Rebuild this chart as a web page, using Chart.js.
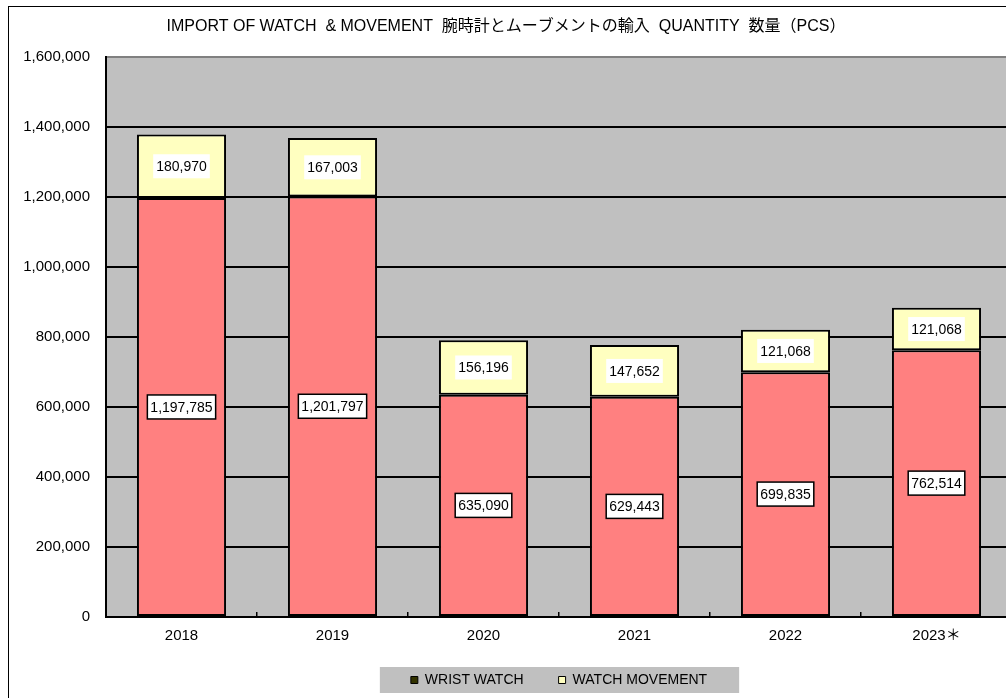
<!DOCTYPE html>
<html lang="ja">
<head>
    <meta charset="UTF-8">
    <title>IMPORT OF WATCH &amp; MOVEMENT</title>
    <script src="https://cdn.jsdelivr.net/npm/chart.js"></script>
    <style>
        body {
            margin: 0;
            background-color: #ffffff;
            overflow: hidden;
        }
        .frame {
            position: absolute;
            left: 8px;
            top: 6px;
            width: 1100px;
            height: 800px;
            border-left: 1.5px solid #000000;
            border-top: 1.5px solid #000000;
            pointer-events: none;
        }
        #chart {
            position: absolute;
            left: 0;
            top: 0;
        }
    </style>
</head>
<body>
<canvas id="chart" width="1020" height="719"></canvas>
<div class="frame"></div>
<script>
    const years = ['2018', '2019', '2020', '2021', '2022', '2023＊'];
    const wristWatch = [1197785, 1201797, 635090, 629443, 699835, 762514];
    const watchMovement = [180970, 167003, 156196, 147652, 121068, 121068];
    const yTicks = [0, 200000, 400000, 600000, 800000, 1000000, 1200000, 1400000, 1600000];

    const FONT = "'Liberation Sans', 'Noto Sans CJK JP', sans-serif";

    // gray plot area
    const plotBackground = {
        id: 'plotBackground',
        beforeDraw(chart) {
            const a = chart.chartArea;
            const ctx = chart.ctx;
            ctx.save();
            ctx.fillStyle = '#c0c0c0';
            ctx.fillRect(a.left, a.top, a.right - a.left, a.bottom - a.top);
            ctx.restore();
        }
    };

    // pull the legend up closer to the axis
    const legendShift = {
        id: 'legendShift',
        afterLayout(chart) {
            const lg = chart.legend;
            if (!lg) return;
            lg.top -= 22;
            lg.bottom -= 22;
        }
    };

    // gray box behind legend items
    const legendBox = {
        id: 'legendBox',
        beforeDraw(chart) {
            const boxes = chart.legend && chart.legend.legendHitBoxes;
            if (!boxes || !boxes.length) return;
            const first = boxes[0];
            const last = boxes[boxes.length - 1];
            const ctx = chart.ctx;
            const cy = first.top + first.height / 2;
            ctx.save();
            ctx.fillStyle = '#c0c0c0';
            ctx.fillRect(first.left - 31, cy - 13, last.left + last.width - first.left + 63, 26);
            ctx.restore();
        }
    };

    // value boxes in the middle of each segment
    const valueLabels = {
        id: 'valueLabels',
        afterDatasetsDraw(chart) {
            const ctx = chart.ctx;
            ctx.save();
            ctx.font = '14px ' + FONT;
            ctx.textAlign = 'center';
            ctx.textBaseline = 'middle';
            chart.data.datasets.forEach((ds, i) => {
                const meta = chart.getDatasetMeta(i);
                meta.data.forEach((bar, j) => {
                    const text = ds.data[j].toLocaleString('en-US');
                    const cx = bar.x;
                    const cy = (bar.y + bar.base) / 2;
                    const w = ctx.measureText(text).width + 6;
                    const h = 24;
                    ctx.fillStyle = '#ffffff';
                    ctx.fillRect(cx - w / 2, cy - h / 2, w, h);
                    if (i === 0) {
                        ctx.strokeStyle = '#000000';
                        ctx.lineWidth = 1.5;
                        ctx.strokeRect(cx - w / 2, cy - h / 2, w, h);
                    }
                    ctx.fillStyle = '#000000';
                    ctx.fillText(text, cx, cy + 1);
                });
            });
            ctx.restore();
        }
    };

    new Chart(document.getElementById('chart'), {
        type: 'bar',
        data: {
            labels: years,
            datasets: [{
                label: 'WRIST WATCH',
                data: wristWatch,
                backgroundColor: '#ff8080',
                borderColor: '#000000',
                borderWidth: 2,
                borderSkipped: false,
                barPercentage: 0.59,
                categoryPercentage: 1
            }, {
                label: 'WATCH MOVEMENT',
                data: watchMovement,
                backgroundColor: '#ffffc0',
                borderColor: '#000000',
                borderWidth: 2,
                borderSkipped: false,
                barPercentage: 0.59,
                categoryPercentage: 1
            }]
        },
        options: {
            responsive: false,
            animation: false,
            layout: { padding: { left: 0, right: 8, top: 0, bottom: 0 } },
            scales: {
                x: {
                    stacked: true,
                    offset: true,
                    grid: {
                        drawOnChartArea: false,
                        drawTicks: true,
                        tickLength: -5,
                        color: '#000000',
                        lineWidth: 1.5
                    },
                    border: { color: '#000000', width: 2 },
                    ticks: {
                        color: '#000000',
                        font: { family: FONT, size: 15 },
                        padding: 15
                    }
                },
                y: {
                    stacked: true,
                    min: 0,
                    max: 1600000,
                    afterBuildTicks(scale) {
                        scale.ticks = yTicks.map(v => ({ value: v }));
                    },
                    afterFit(scale) {
                        scale.width = 106;
                    },
                    grid: {
                        drawTicks: false,
                        color: ctx => ctx.tick && ctx.tick.value === 1600000 ? '#808080' : '#000000',
                        lineWidth: 2
                    },
                    border: { color: '#000000', width: 2 },
                    ticks: {
                        color: '#000000',
                        font: { family: FONT, size: 15 },
                        padding: 16,
                        callback: v => v.toLocaleString('en-US')
                    }
                }
            },
            plugins: {
                title: {
                    display: true,
                    text: 'IMPORT OF WATCH  & MOVEMENT  腕時計とムーブメントの輸入  QUANTITY  数量（PCS）',
                    color: '#000000',
                    font: { family: FONT, size: 16, weight: 'normal' },
                    padding: { top: 17, bottom: 21 }
                },
                legend: {
                    position: 'bottom',
                    fullSize: false,
                    labels: {
                        boxWidth: 7,
                        boxHeight: 7,
                        padding: 35,
                        color: '#000000',
                        font: { family: FONT, size: 14 },
                        generateLabels(chart) {
                            const fills = ['#333300', '#ffffc0'];
                            return chart.data.datasets.map((ds, i) => ({
                                text: ds.label,
                                fillStyle: fills[i],
                                strokeStyle: '#000000',
                                lineWidth: 1,
                                datasetIndex: i
                            }));
                        }
                    }
                },
                tooltip: { enabled: false }
            }
        },
        plugins: [plotBackground, legendShift, legendBox, valueLabels]
    });
</script>
</body>
</html>
